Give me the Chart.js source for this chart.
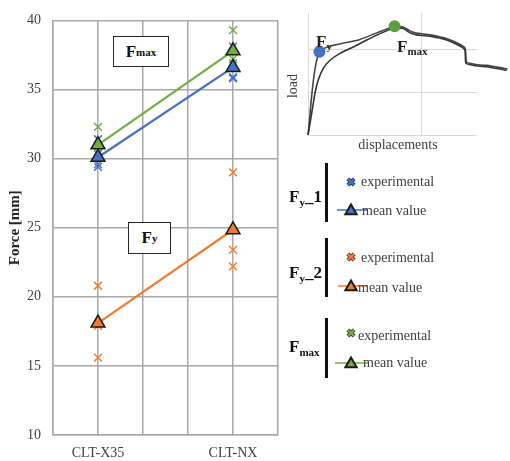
<!DOCTYPE html>
<html>
<head>
<meta charset="utf-8">
<script src="https://cdn.jsdelivr.net/npm/chart.js@4/dist/chart.umd.min.js"></script>
<style>
  body { margin: 0; background: #fff; overflow: hidden; }
  #wrap { position: relative; width: 510px; height: 461px; font-family: 'Liberation Serif', 'DejaVu Serif', serif; }
  #wrap canvas { position: absolute; }
  .txt { position: absolute; white-space: nowrap; line-height: 1; color: #404040; }
  .txt sub { font-size: 11px; vertical-align: -3px; }
  .box { position: absolute; border: 1.5px solid #262626; background: #fff; box-sizing: border-box;
         display: flex; align-items: center; justify-content: center; font-weight: bold; font-size: 17px; color: #111; }
  .box sub { font-size: 11px; vertical-align: -4px; }
  .grp { position: absolute; font-weight: bold; font-size: 17px; color: #111; white-space: nowrap; line-height: 1; }
  .grp sub { font-size: 11px; vertical-align: -4px; }
  .bar { position: absolute; width: 3px; background: #111; }
</style>
</head>
<body>
<div id="wrap">
  <canvas id="main" width="510" height="461" style="left:0;top:0"></canvas>
  <canvas id="inset" width="230" height="160" style="left:280px;top:0"></canvas>

  <div class="box" style="left:113px;top:36px;width:56px;height:31px;">F<sub>max</sub></div>
  <div class="box" style="left:128px;top:222px;width:43px;height:32px;">F<sub>y</sub></div>

  <div class="txt" style="left:316px;top:33px;font-weight:bold;font-size:17px;color:#222;">F<sub>y</sub></div>
  <div class="txt" style="left:397px;top:38px;font-weight:bold;font-size:17px;color:#222;">F<sub>max</sub></div>
  <div class="txt" style="left:293px;top:86px;font-size:14px;transform:translate(-50%,-50%) rotate(-90deg);">load</div>
  <div class="txt" style="left:398px;top:145px;font-size:14px;transform:translate(-50%,-50%);">displacements</div>

  <div class="grp" style="left:289px;top:188px;">F<sub>y</sub>_1</div>
  <div class="bar" style="left:325px;top:163px;height:59px;"></div>
  <div class="txt" style="left:361px;top:175px;font-size:14px;">experimental</div>
  <div class="txt" style="left:362px;top:204px;font-size:14px;">mean value</div>

  <div class="grp" style="left:289px;top:264px;">F<sub>y</sub>_2</div>
  <div class="bar" style="left:325px;top:238px;height:59px;"></div>
  <div class="txt" style="left:361px;top:251px;font-size:14px;">experimental</div>
  <div class="txt" style="left:358px;top:281px;font-size:14px;">mean value</div>

  <div class="grp" style="left:289px;top:338px;">F<sub>max</sub></div>
  <div class="bar" style="left:325px;top:318px;height:60px;"></div>
  <div class="txt" style="left:358px;top:329px;font-size:14px;">experimental</div>
  <div class="txt" style="left:363px;top:356px;font-size:14px;">mean value</div>
</div>
<script>
// categories and where they sit on the x scale (0..5 grid)
const categories = ['CLT-X35', 'CLT-NX'];
const catPos = [1, 4];

// experimental values per category, and mean values
const fy1Exp = [[29.6, 29.4, 31.4], [35.9, 38.1, 35.8]];
const fy1Mean = [30.1, 36.6];
const fy2Exp = [[20.8, 15.6, 17.9], [29.0, 23.4, 22.2]];
const fy2Mean = [18.1, 24.85];
const fmaxExp = [[32.3, 30.4, 30.3], [39.3, 37.2, 36.9]];
const fmaxMean = [31.0, 37.8];

// schematic load-displacement curves for the inset
const curveAx = [0, 0.032, 0.061, 0.09, 0.134, 0.193, 0.281, 0.398, 0.515, 0.632, 0.749, 0.836, 0.88, 0.91, 0.953, 1.07, 1.217, 1.333, 1.377, 1.386, 1.436, 1.509, 1.567, 1.655, 1.743, 1.772];
const curveAy = [0, 0.50, 0.97, 1.28, 1.55, 1.74, 1.90, 2.05, 2.21, 2.36, 2.48, 2.48, 2.40, 2.36, 2.33, 2.30, 2.21, 2.07, 1.98, 1.67, 1.63, 1.60, 1.59, 1.55, 1.50, 1.43];
const curveBx = [0, 0.1, 0.45, 0.75, 0.84, 0.89, 0.94, 1.07, 1.22, 1.34, 1.38, 1.39, 1.44, 1.51, 1.57, 1.66, 1.75, 1.772];
const curveBy = [0, 1.94, 2.22, 2.52, 2.51, 2.43, 2.38, 2.33, 2.24, 2.10, 2.01, 1.70, 1.66, 1.63, 1.62, 1.58, 1.53, 1.47];
const fyPoint = [0.1, 1.94];
const fmaxPoint = [0.76, 2.53];
const insetGridEnd = 1.48;

const blue = 'rgb(68, 114, 196)';
const orange = 'rgb(237, 125, 49)';
const green = 'rgb(112, 173, 71)';
const gridGrey = '#a8a8a8';
const serif = "'Liberation Serif', 'DejaVu Serif', serif";

function expPoints(arr) {
    var pts = [];
    arr.forEach((vals, i) => vals.forEach(v => pts.push({x: catPos[i], y: v})));
    return pts;
}
function meanPoints(arr) {
    return arr.map((v, i) => ({x: catPos[i], y: v}));
}
function expSet(arr, color) {
    return {
        data: expPoints(arr), showLine: false, pointStyle: 'crossRot', pointRadius: 5.5,
        borderColor: color, backgroundColor: color, pointBorderWidth: 1.5
    };
}
function meanSet(arr, color) {
    return {
        data: meanPoints(arr), showLine: true, borderColor: color, borderWidth: 2.2,
        pointStyle: 'triangle', pointRadius: 8, pointBackgroundColor: color,
        pointBorderColor: '#1a1a1a', pointBorderWidth: 1.5
    };
}

// legend markers on the right side
const legendMarks = {
    id: 'legendMarks',
    afterDraw(chart) {
        const ctx = chart.ctx;
        const rows = [
            {color: blue, ex: 351, ey: 182, my: 210, x0: 337, x1: 367},
            {color: orange, ex: 351, ey: 257, my: 286, x0: 338, x1: 368},
            {color: green, ex: 351, ey: 333, my: 363, x0: 335, x1: 368}
        ];
        ctx.save();
        rows.forEach(r => {
            ctx.strokeStyle = '#2a2a2a';
            ctx.lineWidth = 4;
            Chart.helpers.drawPoint(ctx, {pointStyle: 'crossRot', radius: 4.5, borderWidth: 4}, r.ex, r.ey);
            ctx.strokeStyle = r.color;
            ctx.lineWidth = 2.5;
            Chart.helpers.drawPoint(ctx, {pointStyle: 'crossRot', radius: 4.5, borderWidth: 2.5}, r.ex, r.ey);

            ctx.strokeStyle = r.color;
            ctx.lineWidth = 1.5;
            ctx.beginPath();
            ctx.moveTo(r.x0, r.my);
            ctx.lineTo(r.x1, r.my);
            ctx.stroke();
            ctx.fillStyle = r.color;
            ctx.strokeStyle = '#1a1a1a';
            ctx.lineWidth = 2;
            Chart.helpers.drawPoint(ctx, {pointStyle: 'triangle', radius: 6.5, borderWidth: 2}, r.ex, r.my + 1);
        });
        ctx.restore();
    }
};

new Chart(document.getElementById('main'), {
    type: 'scatter',
    data: {
        datasets: [
            meanSet(fy1Mean, blue),
            meanSet(fmaxMean, green),
            meanSet(fy2Mean, orange),
            expSet(fy1Exp, blue),
            expSet(fmaxExp, green),
            expSet(fy2Exp, orange)
        ]
    },
    options: {
        responsive: false,
        devicePixelRatio: 1,
        animation: false,
        layout: { padding: { left: 0, top: 12, right: 232, bottom: 0 } },
        plugins: { legend: { display: false }, tooltip: { enabled: false } },
        scales: {
            x: {
                type: 'linear', min: 0, max: 5,
                afterFit: s => { s.height = 26; },
                grid: { color: gridGrey, lineWidth: 1.5, drawTicks: false },
                border: { color: gridGrey, width: 1.5 },
                ticks: {
                    stepSize: 1, padding: 10, color: '#404040', maxRotation: 0, autoSkip: false,
                    font: { family: serif, size: 14 },
                    callback: v => { const i = catPos.indexOf(v); return i >= 0 ? categories[i] : ''; }
                }
            },
            y: {
                min: 10, max: 40,
                afterFit: s => { s.width = 53; },
                grid: { color: gridGrey, lineWidth: 1.5, drawTicks: false },
                border: { color: gridGrey, width: 1.5 },
                ticks: { stepSize: 5, padding: 12, color: '#404040', font: { family: serif, size: 14 } },
                title: {
                    display: true, text: 'Force [mm]', color: '#222',
                    font: { family: serif, size: 15, weight: 'bold' }, padding: { top: 6, bottom: 0 }
                }
            }
        }
    },
    plugins: [legendMarks]
});

const curveA = curveAx.map((x, i) => ({x: x, y: curveAy[i]}));
const curveB = curveBx.map((x, i) => ({x: x, y: curveBy[i]}));

// horizontal grid of the inset stops short of the curve's tail
const insetHGrid = {
    id: 'insetHGrid',
    beforeDatasetsDraw(chart) {
        const ctx = chart.ctx;
        const xs = chart.scales.x, ys = chart.scales.y;
        const x0 = xs.getPixelForValue(0), x1 = xs.getPixelForValue(insetGridEnd);
        ctx.save();
        ctx.strokeStyle = '#d9d9d9';
        ctx.lineWidth = 1;
        [0, 1, 2].forEach(v => {
            const y = Math.round(ys.getPixelForValue(v)) + 0.5;
            ctx.beginPath();
            ctx.moveTo(x0, y);
            ctx.lineTo(x1, y);
            ctx.stroke();
        });
        ctx.restore();
    }
};

new Chart(document.getElementById('inset'), {
    type: 'scatter',
    data: {
        datasets: [
            { data: [{x: fmaxPoint[0], y: fmaxPoint[1]}], pointRadius: 6, pointBackgroundColor: 'rgb(90, 160, 60)', pointBorderColor: 'rgb(90, 160, 60)', pointBorderWidth: 0 },
            { data: [{x: fyPoint[0], y: fyPoint[1]}], pointRadius: 6, pointBackgroundColor: 'rgb(68, 114, 196)', pointBorderColor: 'rgb(68, 114, 196)', pointBorderWidth: 0 },
            { data: curveA, showLine: true, pointRadius: 0, borderColor: '#333', borderWidth: 1.6, tension: 0.2, clip: false },
            { data: curveB, showLine: true, pointRadius: 0, borderColor: '#444', borderWidth: 1.6, tension: 0.2, clip: false }
        ]
    },
    options: {
        responsive: false,
        devicePixelRatio: 1,
        animation: false,
        layout: { padding: { left: 28, top: 13, right: 0, bottom: 25 } },
        plugins: { legend: { display: false }, tooltip: { enabled: false } },
        scales: {
            x: {
                type: 'linear', min: 0, max: 1.72,
                afterFit: s => { s.height = 0; },
                grid: { color: c => c.tick.value === 1 ? '#d9d9d9' : 'rgba(0,0,0,0)', drawTicks: false },
                border: { display: false },
                ticks: { display: false, stepSize: 1 }
            },
            y: {
                min: 0, max: 2.84,
                afterFit: s => { s.width = 0; },
                grid: { display: false },
                border: { color: '#d9d9d9' },
                ticks: { display: false, stepSize: 1 }
            }
        }
    },
    plugins: [insetHGrid]
});
</script>
</body>
</html>
